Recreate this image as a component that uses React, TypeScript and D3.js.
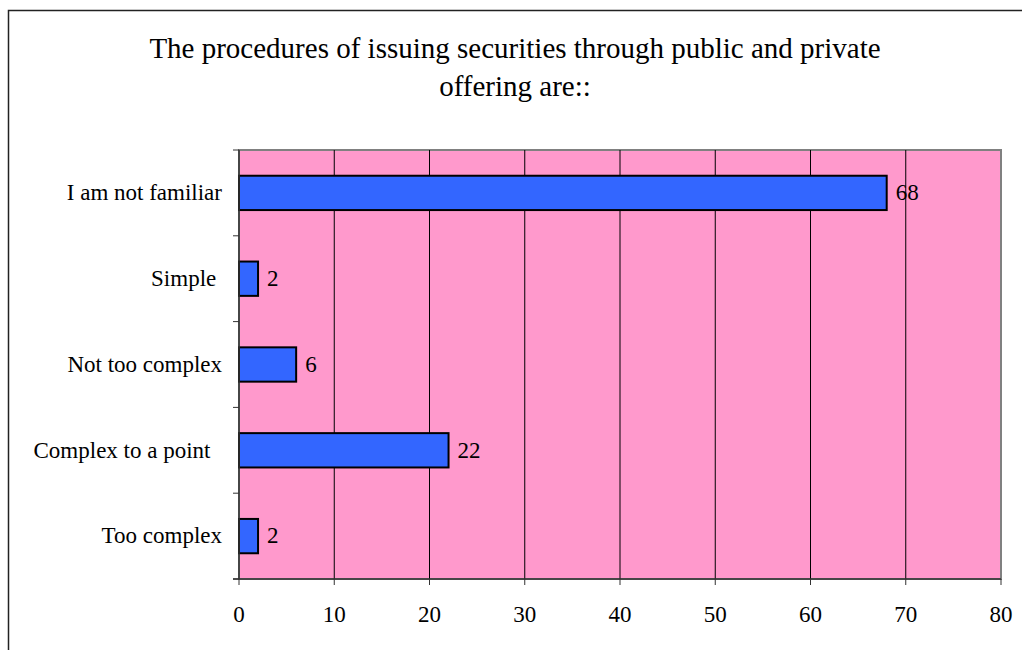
import React from "react";
import * as d3 from "d3";

const categories = [
  "I am not familiar",
  "Simple ",
  "Not too complex",
  "Complex to a point  ",
  "Too complex",
];
const values = [68, 2, 6, 22, 2];
const xTicks = [0, 10, 20, 30, 40, 50, 60, 70, 80];
const titleLines = [
  "The procedures of issuing securities through public and private",
  "offering are::",
];

const font = "'Liberation Serif', 'Times New Roman', serif";

const App: React.FC = () => {
  const width = 1022;
  const height = 650;
  const plot = { left: 239, right: 1001, top: 150, bottom: 579 };

  const x = d3.scaleLinear().domain([0, 80]).range([plot.left, plot.right]);
  const y = d3
    .scaleBand<string>()
    .domain(categories)
    .range([plot.top, plot.bottom])
    .paddingInner(0.6)
    .paddingOuter(0.3);
  const band = d3
    .scaleBand<string>()
    .domain(categories)
    .range([plot.top, plot.bottom]);

  const edges = categories.map((c) => band(c) as number).concat(plot.bottom);

  return (
    <svg
      width={width}
      height={height}
      style={{ position: "absolute", left: 0, top: 0, background: "#fff" }}
    >
      <rect
        x={8.5}
        y={10.5}
        width={1100}
        height={700}
        fill="none"
        stroke="#222"
        strokeWidth={1.5}
      />

      <g fontFamily={font} fontSize={29} textAnchor="middle" fill="#000">
        {titleLines.map((t, i) => (
          <text key={i} x={515} y={58 + i * 38}>
            {t}
          </text>
        ))}
      </g>

      <rect
        x={plot.left}
        y={plot.top}
        width={plot.right - plot.left}
        height={plot.bottom - plot.top}
        fill="#FF99CC"
        stroke="#808080"
        strokeWidth={2}
      />

      {xTicks.slice(1, -1).map((t) => (
        <line
          key={t}
          x1={x(t)}
          x2={x(t)}
          y1={plot.top}
          y2={plot.bottom}
          stroke="#000"
          strokeWidth={1}
        />
      ))}

      {categories.map((c, i) => (
        <rect
          key={c}
          x={x(0)}
          y={y(c)}
          width={x(values[i]) - x(0)}
          height={y.bandwidth()}
          fill="#3366FF"
          stroke="#000"
          strokeWidth={2}
        />
      ))}

      {/* axes */}
      <line x1={plot.left} x2={plot.left} y1={plot.top} y2={plot.bottom} stroke="#333" strokeWidth={1.5} />
      <line x1={plot.left - 6} x2={plot.right} y1={plot.bottom} y2={plot.bottom} stroke="#333" strokeWidth={1.5} />
      {edges.map((e, i) => (
        <line key={i} x1={plot.left - 6} x2={plot.left} y1={e} y2={e} stroke="#333" strokeWidth={1} />
      ))}
      {xTicks.map((t) => (
        <line key={t} x1={x(t)} x2={x(t)} y1={plot.bottom} y2={plot.bottom + 6} stroke="#333" strokeWidth={1} />
      ))}

      <g fontFamily={font} fontSize={23} fill="#000">
        {xTicks.map((t) => (
          <text key={t} x={x(t)} y={622} textAnchor="middle">
            {t}
          </text>
        ))}
        {categories.map((c) => (
          <text
            key={c}
            x={222}
            y={(band(c) as number) + band.bandwidth() / 2}
            dy="0.32em"
            textAnchor="end"
            style={{ whiteSpace: "pre" }}
          >
            {c}
          </text>
        ))}
        {categories.map((c, i) => (
          <text
            key={c}
            x={x(values[i]) + 9}
            y={(y(c) as number) + y.bandwidth() / 2}
            dy="0.32em"
          >
            {values[i]}
          </text>
        ))}
      </g>
    </svg>
  );
};

export default App;
